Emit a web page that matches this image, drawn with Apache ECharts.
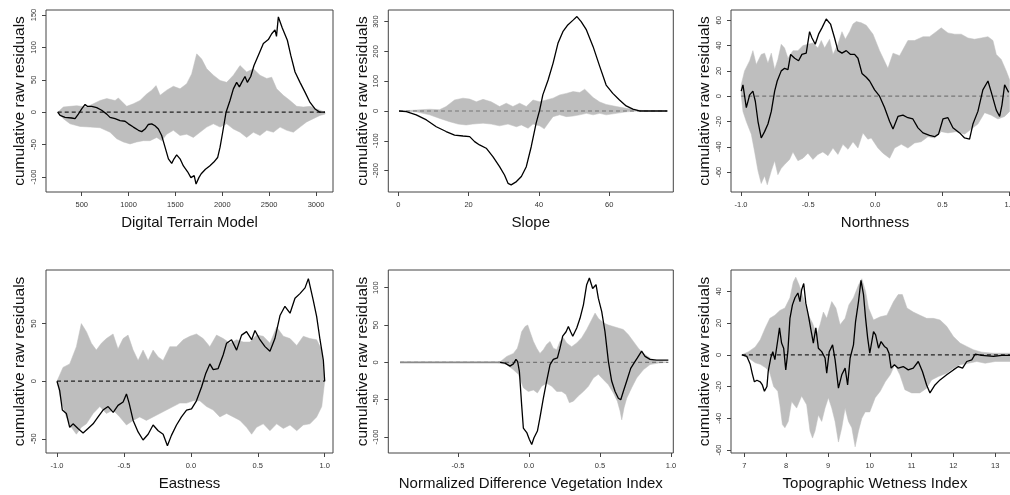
<!DOCTYPE html>
<html>
<head>
<meta charset="utf-8">
<script src="https://cdn.jsdelivr.net/npm/echarts@6/dist/echarts.min.js"></script>
<style>html,body{margin:0;padding:0;background:#fff}#c{width:1010px;height:495px}</style>
</head>
<body>
<div id="c"></div>
<script>
// ---------- Digital Terrain Model ----------
const dtmLine = [[244,0],[269,-5],[322,-8],[393,-9],[429,-10],[464,-3],[500,5],[536,12],[560,9],[607,9],[660,7],[713,3],[767,-3],[802,-8],[856,-10],[909,-13],[962,-14],[998,-18],[1051,-23],[1105,-28],[1140,-30],[1176,-26],[1211,-19],[1247,-18],[1282,-21],[1318,-26],[1353,-36],[1389,-54],[1425,-72],[1460,-79],[1485,-72],[1513,-66],[1549,-72],[1585,-83],[1630,-92],[1665,-101],[1700,-98],[1720,-111],[1750,-101],[1775,-95],[1820,-88],[1865,-83],[1910,-77],[1950,-70],[1976,-54],[2004,-31],[2040,0],[2082,18],[2118,36],[2153,46],[2182,39],[2207,46],[2242,55],[2267,46],[2303,55],[2338,72],[2385,88],[2438,106],[2491,112],[2527,121],[2562,127],[2578,117],[2598,147],[2640,130],[2694,111],[2730,88],[2776,62],[2829,46],[2882,31],[2936,15],[2989,5],[3042,0],[3096,0]];
const dtmUpper = [[244,0],[304,8],[376,9],[447,10],[553,8],[696,18],[767,21],[856,18],[891,22],[980,9],[1051,13],[1122,18],[1193,28],[1247,34],[1293,41],[1336,26],[1407,34],[1478,40],[1549,36],[1620,44],[1673,59],[1727,90],[1780,82],[1834,67],[1905,57],[1976,49],[2047,46],[2118,57],[2189,72],[2260,62],[2331,67],[2402,57],[2474,52],[2527,54],[2580,36],[2651,26],[2722,18],[2794,9],[2865,8],[2936,9],[3007,5],[3096,0]];
const dtmLower = [[244,0],[304,-10],[376,-18],[482,-22],[589,-23],[696,-24],[802,-31],[873,-41],[944,-46],[1016,-49],[1087,-46],[1158,-44],[1229,-44],[1300,-39],[1353,-44],[1407,-34],[1478,-28],[1549,-36],[1620,-34],[1691,-39],[1762,-31],[1834,-23],[1905,-18],[1976,-23],[2047,-18],[2118,-26],[2189,-31],[2260,-39],[2331,-31],[2402,-36],[2474,-28],[2545,-31],[2616,-23],[2687,-28],[2758,-31],[2829,-23],[2900,-15],[2971,-10],[3042,-5],[3096,-3]];
const dtmXTicks = [500,1000,1500,2000,2500,3000];
const dtmYTicks = [-100,-50,0,50,100,150];

// ---------- Slope ----------
const slopeLine = [[0.2,0],[2.3,-2],[5.1,-13],[8,-30],[10.8,-53],[13.6,-69],[16,-81],[18.4,-84],[20.3,-86],[21.7,-103],[23.1,-114],[25,-125],[26.9,-153],[28.8,-187],[30.2,-215],[31.2,-243],[32.1,-248],[33.6,-237],[35,-220],[36.4,-187],[37.8,-120],[39.2,-41],[40.2,3],[41.1,54],[42.6,104],[44,160],[45.4,227],[46.8,266],[48.2,289],[49.7,305],[50.8,317],[52,300],[53.5,272],[55.4,216],[57.3,149],[59.1,87],[61,59],[62.9,37],[64.8,17],[66.7,6],[68.6,0],[76.5,0]];
const slopeUpper = [[0.2,0],[5.1,3],[8.9,6],[11.7,4],[13.6,15],[16,37],[18.4,43],[20.3,40],[22.2,31],[24.1,39],[26.4,31],[28.8,15],[30.7,26],[32.6,15],[34.5,26],[36.4,15],[38.3,37],[40.2,31],[42.1,37],[44,43],[45.9,54],[47.8,59],[49.7,65],[51.6,62],[53,73],[55.4,45],[57.3,30],[59.1,22],[62,15],[64.8,9],[67.7,3],[71.5,0],[76.5,0]];
const slopeLower = [[0.2,0],[5.1,-3],[8.9,-13],[11.8,-25],[14.6,-36],[17,-44],[19.3,-47],[21.2,-44],[24.1,-41],[26.4,-44],[28.8,-50],[31.2,-44],[33.6,-53],[35,-47],[36.9,-58],[38.3,-44],[40.2,-50],[41.5,-60],[43,-35],[44,-19],[45.9,-13],[47.8,-19],[49.7,-17],[51.6,-13],[53.5,-8],[55.4,-13],[57.3,-8],[59.1,-13],[62,-8],[64.8,-3],[68.6,0],[76.5,0]];
const slopeXTicks = [0,20,40,60];
const slopeYTicks = [-200,-100,0,100,200,300];

// ---------- Northness ----------
const northLine = [[-0.998,4],[-0.985,9],[-0.96,-9],[-0.935,1],[-0.911,4],[-0.893,-4],[-0.873,-20],[-0.849,-33],[-0.824,-28],[-0.799,-22],[-0.774,-12],[-0.749,4],[-0.73,12],[-0.7,20],[-0.675,22],[-0.65,21],[-0.63,33],[-0.6,30],[-0.571,28],[-0.546,33],[-0.514,34],[-0.489,51],[-0.471,46],[-0.447,41],[-0.422,49],[-0.397,54],[-0.365,61],[-0.333,57],[-0.303,46],[-0.278,36],[-0.248,34],[-0.216,36],[-0.184,33],[-0.154,33],[-0.129,30],[-0.099,18],[-0.067,15],[-0.042,12],[-0.005,5],[0.032,0],[0.069,-9],[0.107,-20],[0.132,-26],[0.169,-16],[0.206,-15],[0.243,-17],[0.28,-18],[0.318,-25],[0.355,-29],[0.404,-31],[0.442,-32],[0.471,-30],[0.504,-18],[0.541,-17],[0.578,-25],[0.628,-29],[0.665,-33],[0.702,-34],[0.727,-22],[0.764,-12],[0.801,5],[0.839,12],[0.864,3],[0.901,-11],[0.926,-16],[0.943,-7],[0.963,9],[0.993,3]];
const northUpper = [[-0.998,9],[-0.973,20],[-0.935,28],[-0.911,36],[-0.886,25],[-0.849,33],[-0.824,34],[-0.799,26],[-0.774,34],[-0.749,21],[-0.725,29],[-0.7,41],[-0.675,38],[-0.65,30],[-0.613,36],[-0.576,36],[-0.538,40],[-0.501,41],[-0.464,42],[-0.427,38],[-0.402,44],[-0.377,38],[-0.34,45],[-0.315,33],[-0.278,41],[-0.248,51],[-0.223,45],[-0.191,51],[-0.166,57],[-0.141,59],[-0.104,58],[-0.067,56],[-0.017,49],[0.032,36],[0.094,22],[0.132,34],[0.181,32],[0.243,44],[0.293,44],[0.355,47],[0.404,47],[0.454,51],[0.491,54],[0.541,50],[0.591,49],[0.64,49],[0.69,46],[0.739,45],[0.789,46],[0.839,47],[0.876,44],[0.901,33],[0.938,29],[0.975,20],[1.0,13]];
const northLower = [[-0.998,1],[-0.985,-12],[-0.96,-20],[-0.923,-30],[-0.898,-44],[-0.873,-59],[-0.849,-69],[-0.824,-63],[-0.804,-70],[-0.774,-59],[-0.749,-51],[-0.725,-62],[-0.7,-57],[-0.675,-54],[-0.638,-50],[-0.613,-44],[-0.576,-51],[-0.538,-49],[-0.501,-45],[-0.464,-50],[-0.427,-46],[-0.39,-44],[-0.352,-47],[-0.315,-41],[-0.278,-46],[-0.241,-38],[-0.203,-42],[-0.166,-36],[-0.129,-41],[-0.092,-29],[-0.055,-34],[-0.03,-33],[0.02,-41],[0.057,-45],[0.107,-49],[0.144,-41],[0.194,-38],[0.243,-41],[0.293,-37],[0.342,-36],[0.392,-32],[0.442,-33],[0.491,-28],[0.541,-29],[0.603,-28],[0.665,-30],[0.715,-26],[0.764,-22],[0.814,-13],[0.864,-15],[0.913,-18],[0.963,-16],[1.0,-12]];
const northXTicks = [-1,-0.5,0,0.5,1];
const northYTicks = [-60,-40,-20,0,20,40,60];

// ---------- Eastness ----------
const eastLine = [[-1,0],[-0.98,-8],[-0.96,-25],[-0.93,-28],[-0.905,-40],[-0.88,-37],[-0.843,-41],[-0.805,-45],[-0.768,-41],[-0.73,-37],[-0.693,-31],[-0.656,-25],[-0.618,-22],[-0.58,-27],[-0.544,-21],[-0.506,-18],[-0.481,-11],[-0.461,-19],[-0.431,-34],[-0.394,-44],[-0.357,-51],[-0.319,-46],[-0.282,-38],[-0.244,-43],[-0.207,-46],[-0.175,-56],[-0.145,-47],[-0.107,-38],[-0.07,-31],[-0.032,-25],[0.005,-24],[0.042,-17],[0.08,-5],[0.112,7],[0.142,15],[0.167,10],[0.204,11],[0.242,23],[0.267,33],[0.304,36],[0.342,27],[0.379,40],[0.416,43],[0.454,36],[0.479,44],[0.516,36],[0.554,30],[0.591,26],[0.628,37],[0.666,57],[0.703,65],[0.741,59],[0.778,72],[0.815,76],[0.853,81],[0.878,89],[0.915,70],[0.94,56],[0.965,36],[0.99,18],[1.0,0]];
const eastUpper = [[-1,0],[-0.955,12],[-0.905,15],[-0.855,30],[-0.818,50],[-0.78,43],[-0.743,33],[-0.706,27],[-0.668,33],[-0.631,37],[-0.581,41],[-0.544,28],[-0.506,37],[-0.469,40],[-0.431,27],[-0.394,18],[-0.357,27],[-0.319,18],[-0.282,27],[-0.244,21],[-0.207,18],[-0.157,30],[-0.107,30],[-0.057,36],[-0.007,39],[0.042,41],[0.092,37],[0.142,30],[0.192,40],[0.242,37],[0.292,33],[0.342,36],[0.392,34],[0.441,34],[0.491,40],[0.541,39],[0.591,33],[0.641,47],[0.691,39],[0.741,37],[0.791,31],[0.84,39],[0.89,37],[0.94,36],[0.978,27],[1.0,0]];
const eastLower = [[-1,0],[-0.97,-17],[-0.93,-31],[-0.893,-40],[-0.855,-46],[-0.818,-40],[-0.78,-37],[-0.73,-28],[-0.68,-22],[-0.631,-28],[-0.581,-25],[-0.531,-31],[-0.481,-38],[-0.431,-34],[-0.382,-31],[-0.332,-34],[-0.282,-31],[-0.232,-28],[-0.182,-25],[-0.132,-22],[-0.082,-19],[-0.032,-19],[0.017,-17],[0.067,-17],[0.117,-22],[0.167,-25],[0.217,-31],[0.267,-28],[0.317,-31],[0.367,-34],[0.416,-40],[0.454,-46],[0.491,-40],[0.541,-37],[0.591,-43],[0.641,-37],[0.691,-41],[0.741,-38],[0.791,-43],[0.84,-38],[0.89,-37],[0.94,-31],[0.978,-22],[1.0,0]];
const eastXTicks = [-1,-0.5,0,0.5,1];
const eastYTicks = [-50,0,50];

// ---------- NDVI ----------
const ndviLine = [[-0.908,0],[-0.204,0],[-0.169,-1],[-0.134,-5],[-0.11,-2],[-0.092,4],[-0.08,1],[-0.068,-12],[-0.052,-57],[-0.04,-88],[-0.016,-94],[0.002,-103],[0.019,-110],[0.035,-101],[0.059,-92],[0.077,-74],[0.101,-48],[0.124,-25],[0.148,-3],[0.171,4],[0.2,6],[0.218,19],[0.237,35],[0.261,41],[0.277,48],[0.293,41],[0.308,35],[0.336,46],[0.359,59],[0.383,77],[0.406,104],[0.425,113],[0.448,99],[0.472,104],[0.488,86],[0.512,68],[0.535,41],[0.559,1],[0.582,-25],[0.606,-39],[0.629,-48],[0.646,-50],[0.664,-39],[0.688,-25],[0.716,-8],[0.739,-1],[0.763,6],[0.793,15],[0.817,8],[0.852,4],[0.899,3],[0.981,3]];
const ndviUpper = [[-0.908,0],[-0.228,0],[-0.2,1.3],[-0.157,8],[-0.11,12],[-0.082,19],[-0.068,28],[-0.052,41],[-0.028,48],[-0.009,50],[0.007,41],[0.031,28],[0.054,19],[0.077,12],[0.101,17],[0.124,24],[0.148,28],[0.171,19],[0.195,17],[0.218,28],[0.242,33],[0.265,26],[0.3,21],[0.336,26],[0.371,33],[0.406,44],[0.441,57],[0.465,66],[0.488,59],[0.523,53],[0.559,50],[0.594,48],[0.629,46],[0.664,44],[0.7,37],[0.735,28],[0.77,19],[0.805,12],[0.852,6],[0.899,1.3],[0.97,0.5]];
const ndviLower = [[-0.908,0],[-0.228,0],[-0.157,-3],[-0.11,-10],[-0.075,-16],[-0.04,-34],[-0.005,-39],[0.031,-37],[0.059,-41],[0.089,-32],[0.124,-28],[0.16,-32],[0.195,-39],[0.23,-39],[0.261,-43],[0.284,-54],[0.312,-52],[0.347,-45],[0.383,-39],[0.418,-32],[0.453,-21],[0.488,-16],[0.523,-23],[0.559,-30],[0.594,-41],[0.622,-52],[0.641,-65],[0.653,-77],[0.669,-61],[0.688,-48],[0.723,-34],[0.758,-21],[0.805,-10],[0.852,-3],[0.911,-1],[0.97,0]];
const ndviXTicks = [-0.5,0,0.5,1];
const ndviYTicks = [-100,-50,0,50,100];

// ---------- Topographic Wetness Index ----------
const twiLine = [[6.94,0],[7.06,-1],[7.14,-6],[7.19,-12],[7.24,-17],[7.3,-16],[7.38,-17],[7.43,-19],[7.48,-23],[7.54,-20],[7.57,-10.5],[7.63,-2],[7.68,2],[7.73,-3],[7.8,9.5],[7.84,17],[7.89,7.4],[7.94,4.2],[7.99,-9.5],[8.04,2],[8.09,23],[8.15,31.5],[8.21,36],[8.28,39],[8.33,33.6],[8.37,41],[8.42,45],[8.47,32.6],[8.53,25],[8.6,14.7],[8.65,7.4],[8.71,17],[8.77,4.2],[8.85,2],[8.93,-2],[8.97,-11.6],[9.03,2],[9.11,6.3],[9.17,-3],[9.25,-21],[9.33,-12.6],[9.41,-8.4],[9.47,-19],[9.53,-2],[9.61,6.3],[9.66,21],[9.73,33.6],[9.79,47],[9.85,38],[9.9,23],[9.95,10.5],[10.0,1],[10.09,14.7],[10.14,12.6],[10.21,4.2],[10.27,8.4],[10.35,5.3],[10.41,4.2],[10.46,1],[10.51,-8.4],[10.59,-6.3],[10.68,-8.4],[10.8,-7.4],[10.92,-9.5],[11.04,-8.4],[11.16,-4.2],[11.26,-10.5],[11.36,-19],[11.44,-24],[11.56,-19],[11.68,-15.8],[11.84,-12.6],[12.0,-9.5],[12.12,-7.4],[12.22,-8.4],[12.32,-4.2],[12.44,-3.2],[12.52,0.4],[12.68,-0.4],[12.96,-1],[13.16,-0.4],[13.4,-0.4]];
const twiUpper = [[6.94,0],[7.1,2],[7.26,5],[7.38,9.5],[7.5,17],[7.61,23],[7.73,25],[7.85,28],[7.97,29.5],[8.09,36],[8.17,46],[8.23,49],[8.31,44],[8.41,36],[8.53,25],[8.63,20],[8.73,12.6],[8.81,19],[8.89,27],[8.97,23],[9.09,33.6],[9.19,29.5],[9.29,19],[9.41,23],[9.5,31.5],[9.61,36],[9.73,44],[9.81,48],[9.9,40],[9.97,29.5],[10.09,22],[10.25,24],[10.41,25],[10.57,33.6],[10.68,38],[10.78,38],[10.89,29.5],[11.04,27],[11.2,25],[11.36,23],[11.52,23],[11.68,22],[11.84,18],[12.0,11.6],[12.16,7.4],[12.32,5.3],[12.48,3.2],[12.68,1.7],[12.96,1],[13.4,1]];
const twiLower = [[6.94,0],[7.1,-2],[7.26,-5],[7.38,-6],[7.5,-8],[7.6,-10.5],[7.7,-20],[7.8,-23],[7.85,-31.5],[7.91,-44],[7.97,-46],[8.05,-42],[8.13,-29.5],[8.25,-33.6],[8.37,-26],[8.49,-31.5],[8.57,-48],[8.63,-52.5],[8.69,-48],[8.77,-38],[8.85,-42],[8.93,-33.6],[9.01,-27],[9.09,-33.6],[9.17,-42],[9.25,-55],[9.33,-46],[9.41,-33.6],[9.49,-42],[9.57,-46],[9.65,-58],[9.73,-48],[9.81,-40],[9.89,-36],[10.0,-36],[10.13,-27],[10.25,-23],[10.37,-17],[10.49,-12.6],[10.6,-6.3],[10.72,-12.6],[10.84,-22],[11.0,-24],[11.2,-24],[11.36,-21],[11.48,-15.8],[11.64,-13.7],[11.84,-11.6],[12.0,-8.4],[12.16,-6.3],[12.36,-5.3],[12.56,-4.2],[12.76,-5.3],[13.0,-4.2],[13.4,-4.2]];
const twiXTicks = [7,8,9,10,11,12,13];
const twiYTicks = [-60,-40,-20,0,20,40];

const panels = [
  {title:'Digital Terrain Model', line:dtmLine, up:dtmUpper, lo:dtmLower, xt:dtmXTicks, yt:dtmYTicks, left:46, top:10, w:287, h:182, xr:[119,3181], yr:[-123.2,157.7], dec:0, dash:'#222'},
  {title:'Slope', line:slopeLine, up:slopeUpper, lo:slopeLower, xt:slopeXTicks, yt:slopeYTicks, left:388.3, top:10, w:285, h:182, xr:[-2.84,78.2], yr:[-272,339], dec:0, dash:'#777'},
  {title:'Northness', line:northLine, up:northUpper, lo:northLower, xt:northXTicks, yt:northYTicks, left:731, top:10, w:288, h:182, xr:[-1.074,1.07], yr:[-75.7,68.1], dec:1, dash:'#777'},
  {title:'Eastness', line:eastLine, up:eastUpper, lo:eastLower, xt:eastXTicks, yt:eastYTicks, left:46, top:270, w:287, h:183, xr:[-1.082,1.062], yr:[-62.3,96.5], dec:1, dash:'#222'},
  {title:'Normalized Difference Vegetation Index', line:ndviLine, up:ndviUpper, lo:ndviLower, xt:ndviXTicks, yt:ndviYTicks, left:388.3, top:270, w:285, h:183, xr:[-0.991,1.016], yr:[-121.4,123.7], dec:1, dash:'#777', greyUntil:-0.204},
  {title:'Topographic Wetness Index', line:twiLine, up:twiUpper, lo:twiLower, xt:twiXTicks, yt:twiYTicks, left:731, top:270, w:288, h:183, xr:[6.68,13.57], yr:[-61.9,53.5], dec:0, dash:'#222'}
];

const FONT = '"Liberation Sans", Arial, Helvetica, sans-serif';
const grid = [], xAxis = [], yAxis = [], series = [];
panels.forEach((p, i) => {
  grid.push({left:p.left, top:p.top, width:p.w, height:p.h, show:true, borderColor:'#444', borderWidth:1,
    backgroundColor:'rgba(0,0,0,0)', containLabel:false, outerBoundsMode:'none'});
  const tickStyle = {show:true, length:4, inside:false, lineStyle:{color:'#444', width:1}};
  xAxis.push({
    type:'value', gridIndex:i, min:p.xr[0], max:p.xr[1], position:'bottom',
    axisLine:{show:false, onZero:false}, splitLine:{show:false},
    axisTick:Object.assign({customValues:p.xt}, tickStyle),
    axisLabel:{customValues:p.xt, fontSize:7.5, color:'#333', fontFamily:FONT, margin:9,
      formatter:v => p.dec ? Number(v).toFixed(p.dec) : String(Math.round(v))},
    name:p.title, nameLocation:'middle', nameGap:23,
    nameTextStyle:{fontSize:15, color:'#111', fontFamily:FONT}
  });
  yAxis.push({
    type:'value', gridIndex:i, min:p.yr[0], max:p.yr[1], position:'left',
    axisLine:{show:false, onZero:false}, splitLine:{show:false},
    axisTick:Object.assign({customValues:p.yt}, tickStyle),
    axisLabel:{customValues:p.yt, fontSize:7.5, color:'#333', fontFamily:FONT, margin:8, rotate:90,
      formatter:v => String(Math.round(v))},
    name:'cumulative raw residuals', nameLocation:'middle', nameGap:18,
    nameTextStyle:{fontSize:15.5, color:'#111', fontFamily:FONT}
  });
  const up = p.up, lo = p.lo;
  series.push({
    type:'custom', xAxisIndex:i, yAxisIndex:i, silent:true, clip:true,
    data:[up[0]],
    renderItem:(params, api) => {
      const pts = up.map(d => api.coord(d)).concat(lo.slice().reverse().map(d => api.coord(d)));
      return {type:'polygon', shape:{points:pts}, style:{fill:'#bebebe', stroke:'#bebebe', lineWidth:0.5}};
    },
    z:1
  });
  const xs = p.line[0][0], xe = p.line[p.line.length-1][0];
  series.push({
    type:'line', xAxisIndex:i, yAxisIndex:i, data:[[xs,0],[xe,0]], symbol:'none', silent:true,
    lineStyle:{color:p.dash, width:1.2, type:[4,3]}, z:2
  });
  let blackPart = p.line;
  if (p.greyUntil !== undefined) {
    const greyPart = p.line.filter(d => d[0] <= p.greyUntil);
    blackPart = p.line.filter(d => d[0] >= p.greyUntil);
    series.push({
      type:'line', xAxisIndex:i, yAxisIndex:i, data:greyPart, symbol:'none', silent:true,
      lineStyle:{color:'#8a8a8a', width:1.6}, z:3
    });
  }
  series.push({
    type:'line', xAxisIndex:i, yAxisIndex:i, data:blackPart, symbol:'none', silent:true,
    lineStyle:{color:'#000', width:1.3}, z:3
  });
});

const chart = echarts.init(document.getElementById('c'), null, {renderer:'canvas'});
chart.setOption({animation:false, backgroundColor:'#fff', grid, xAxis, yAxis, series});
</script>
</body>
</html>
